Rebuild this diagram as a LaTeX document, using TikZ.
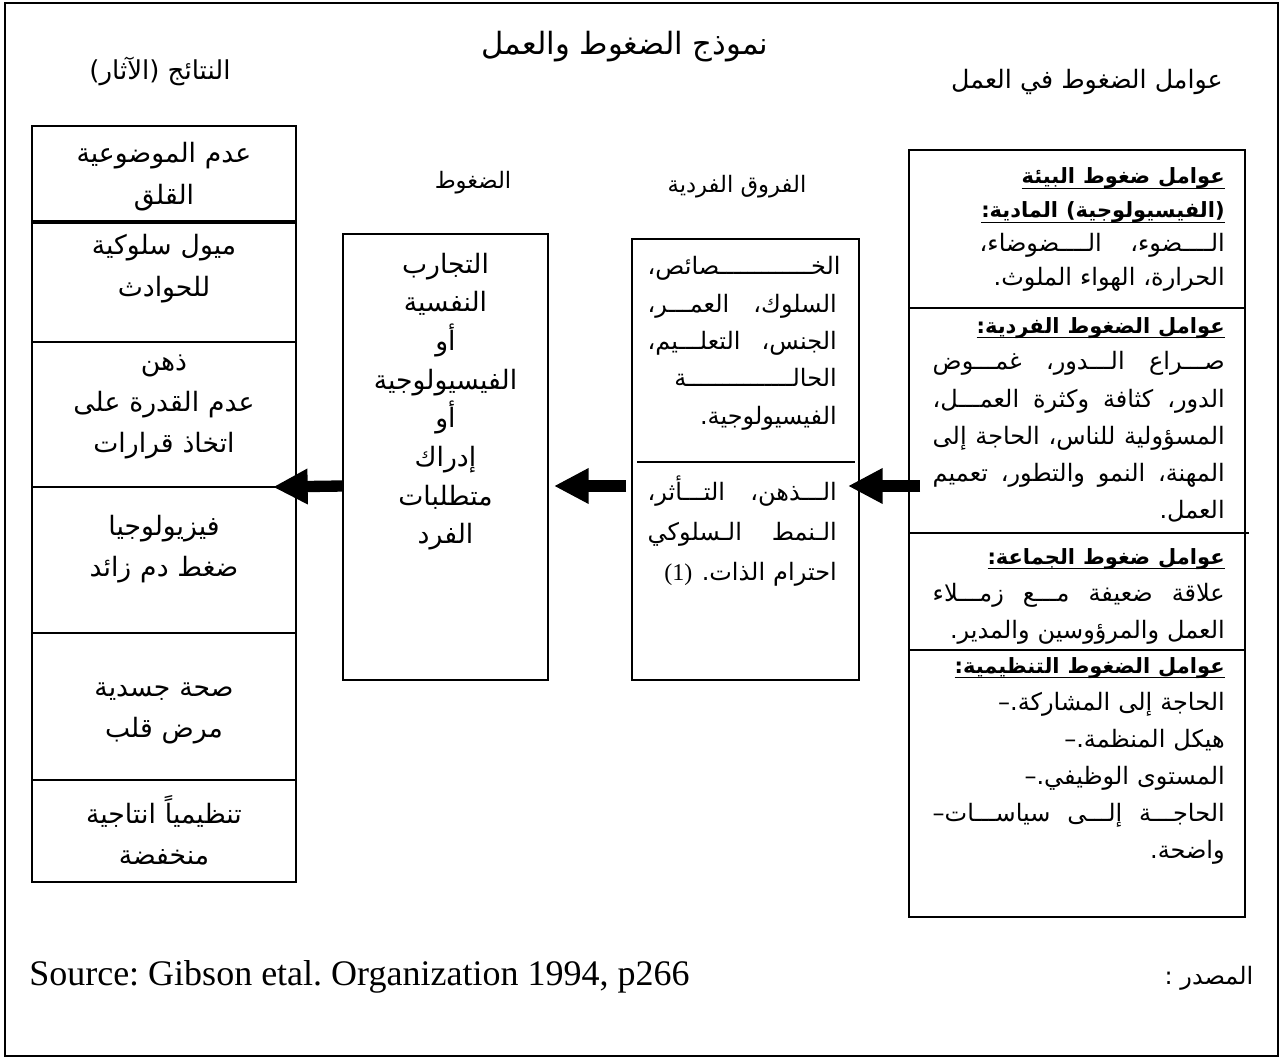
\documentclass[tikz,border=0pt]{standalone}
\usepackage{fontspec}
\setmainfont{Liberation Serif}
\newfontfamily\arabicfont[Script=Arabic]{DejaVu Sans}
\TeXXeTstate=1
\usepackage{tikz}
\usetikzlibrary{arrows.meta,positioning,calc}

% one run of right-to-left text
\newcommand\rtl[1]{\beginR#1\endR}
% centred, right-aligned and justified lines inside a text box
\newcommand\cl[1]{\noindent\hbox to\linewidth{\hfil\strut\rtl{#1}\hfil}\par}
\newcommand\rl[1]{\noindent\hbox to\linewidth{\hfil\strut\rtl{#1}}\par}
\newcommand\jl[1]{\noindent\hbox to\linewidth{\strut\rtl{#1}}\par}
\newcommand\dl[1]{\noindent\hbox to\linewidth{\hfil\strut–\rtl{#1}}\par}
% underlined bold heading line
\newcommand\undr[1]{\setbox0\hbox{#1}\rlap{\rule[-4pt]{\wd0}{1.3pt}}\box0}
\newcommand\hd[1]{\noindent\hbox to\linewidth{\hfil\strut\undr{\fontsize{15.75}{20}\selectfont\bfseries\rtl{#1}}}\par}

\begin{document}
\frenchspacing
\begin{tikzpicture}[x=0.75pt,y=-0.75pt,
    box/.style={draw, line width=1.5pt, inner sep=0pt, outer sep=0pt},
    cell/.style={box, minimum width=198pt},
    sect/.style={box, minimum width=252pt},
    divider/.style={line width=1.5pt},
    ltxt/.style={inner sep=0pt, text width=190pt, anchor=base,
      font=\arabicfont\fontsize{20}{31}\selectfont},
    ctxt/.style={inner sep=0pt, text width=150pt, anchor=base,
      font=\arabicfont\fontsize{20}{29}\selectfont},
    itxt/.style={inner sep=0pt, text width=141.75pt, anchor=base east,
      font=\arabicfont\fontsize{18}{28}\selectfont},
    rtxt/.style={inner sep=0pt, text width=219pt, anchor=base east,
      font=\arabicfont\fontsize{18}{27.75}\selectfont},
    lbl/.style={inner sep=0pt, font=\arabicfont\fontsize{17}{20}\selectfont},
    bigarrow/.style={line width=8.5pt, -{Triangle[length=26pt,width=25pt]}}
  ]
  \useasboundingbox (0,0) rectangle (1281,1059);
  \draw[line width=1.5pt] (5,3) rectangle (1278,1056);

  % titles
  \node[lbl, font=\arabicfont\fontsize{23}{26}\selectfont] (title) at (625,47) {\rtl{نموذج الضغوط والعمل}};
  \node[lbl, font=\arabicfont\fontsize{19.5}{22}\selectfont] (reslbl) at (160,71) {\rtl{النتائج (الآثار)}};
  \node[lbl, font=\arabicfont\fontsize{19}{22}\selectfont] (faclbl) at (1087,82) {\rtl{عوامل الضغوط في العمل}};
  \node[lbl] (stresslbl) at (473,183) {\rtl{الضغوط}};
  \node[lbl] (indivlbl) at (737,187) {\rtl{الفروق الفردية}};

  % results column
  \node[cell, minimum height=72pt, anchor=north west] (r1) at (32,126) {};
  \node[cell, minimum height=90pt, anchor=north] (r2) at (r1.south) {};
  \node[cell, minimum height=108.75pt, anchor=north] (r3) at (r2.south) {};
  \node[cell, minimum height=109.5pt, anchor=north] (r4) at (r3.south) {};
  \node[cell, minimum height=110.25pt, anchor=north] (r5) at (r4.south) {};
  \node[cell, minimum height=76.5pt, anchor=north] (r6) at (r5.south) {};
  \draw[line width=2.6pt] (r1.south west) -- (r1.south east);
  \node[ltxt] (l1) at ($(r1.north)+(0,37)$) {\cl{عدم الموضوعية}\cl{القلق}};
  \node[ltxt] (l2) at ($(r2.north)+(0,33)$) {\cl{ميول سلوكية}\cl{للحوادث}};
  \node[ltxt] (l3) at ($(r3.north)+(0,28)$) {\cl{ذهن}\cl{عدم القدرة على}\cl{اتخاذ قرارات}};
  \node[ltxt] (l4) at ($(r4.north)+(0,48)$) {\cl{فيزيولوجيا}\cl{ضغط دم زائد}};
  \node[ltxt] (l5) at ($(r5.north)+(0,63)$) {\cl{صحة جسدية}\cl{مرض قلب}};
  \node[ltxt] (l6) at ($(r6.north)+(0,43)$) {\cl{تنظيمياً انتاجية}\cl{منخفضة}};

  % stress box
  \node[box, minimum width=153.75pt, minimum height=334.5pt, anchor=north west] (stress) at (343,234) {};
  \node[ctxt] (st) at ($(stress.north)+(0,39)$) {\cl{التجارب}\cl{النفسية}\cl{أو}\cl{الفيسيولوجية}\cl{أو}\cl{إدراك}\cl{متطلبات}\cl{الفرد}};

  % individual differences box
  \node[box, minimum width=170.25pt, minimum height=330.75pt, anchor=north west] (indiv) at (632,239) {};
  \draw[divider] ($(indiv.north west)+(5,223)$) -- ($(indiv.north east)+(-4,223)$);
  \node[itxt] (i1) at ($(indiv.north east)+(-22,36)$) {
    \rl{الخـــــــــــــصائص،}
    \jl{السلوك،\hfill العمـــر،}
    \jl{الجنس،\hfill التعلـــيم،}
    \rl{الحالـــــــــــــــة}
    \rl{الفيسيولوجية.}};
  \node[itxt, font=\arabicfont\fontsize{18}{30}\selectfont] (i2) at ($(indiv.north east)+(-22,261)$) {
    \jl{الـــذهن،\hfill التـــأثر،}
    \jl{الـنمط\hfill الـسلوكي}
    \noindent\hbox to\linewidth{\hfil\strut{\rmfamily(1)}\hspace{7pt}\rtl{احترام الذات.}}\par};

  % stress factors box
  \node[sect, minimum height=118.5pt, anchor=north west] (f1) at (909,150) {};
  \node[sect, minimum height=168.75pt, anchor=north] (f2) at (f1.south) {};
  \node[sect, minimum height=87.75pt, anchor=north] (f3) at (f2.south) {};
  \node[sect, minimum height=200.25pt, anchor=north] (f4) at (f3.south) {};
  \draw[divider] (f3.north east) -- ++(4,0);
  \node[rtxt, text width=183.75pt, font=\arabicfont\fontsize{18}{25.5}\selectfont] (ft1) at ($(f1.north east)+(-20,34)$) {
    \hd{عوامل ضغوط البيئة}
    \hd{(الفيسيولوجية) المادية:}
    \jl{الــــضوء،\hfill الــــضوضاء،}
    \rl{الحرارة، الهواء الملوث.}};
  \node[rtxt] (ft2) at ($(f2.north east)+(-20,25)$) {
    \hd{عوامل الضغوط الفردية:}
    \jl{صـــراع\hfill الـــدور،\hfill غمـــوض}
    \jl{الدور،\hfill كثافة\hfill وكثرة\hfill العمـــل،}
    \jl{المسؤولية\hfill للناس،\hfill الحاجة\hfill إلى}
    \jl{المهنة،\hfill النمو\hfill والتطور،\hfill تعميم}
    \rl{العمل.}};
  \node[rtxt] (ft3) at ($(f3.north east)+(-20,31)$) {
    \hd{عوامل ضغوط الجماعة:}
    \jl{علاقة\hfill ضعيفة\hfill مـــع\hfill زمـــلاء}
    \rl{العمل والمرؤوسين والمدير.}};
  \node[rtxt] (ft4) at ($(f4.north east)+(-20,23)$) {
    \hd{عوامل الضغوط التنظيمية:}
    \dl{الحاجة إلى المشاركة.}
    \dl{هيكل المنظمة.}
    \dl{المستوى الوظيفي.}
    \noindent\hbox to\linewidth{\strut–\rtl{الحاجـــة\hfill إلـــى\hfill سياســـات}}\par
    \rl{واضحة.}};

  % arrows
  \coordinate (lvl) at (0,486);
  \draw[bigarrow] ($(f2.west |- lvl)+(11,0)$) -- ($(indiv.east |- lvl)+(-11,0)$);
  \draw[bigarrow] ($(indiv.west |- lvl)+(-6,0)$) -- ($(stress.east |- lvl)+(6,0)$);
  \draw[bigarrow] (stress.west |- lvl) -- ($(r4.north east)+(-23,0)$);

  % source
  \node[anchor=west, inner sep=0pt, font=\fontsize{27}{30}\selectfont] (src) at (29,977) {Source: Gibson etal. Organization 1994, p266};
  \node[lbl, font=\arabicfont\fontsize{18}{20}\selectfont] (srclbl) at (1209,978) {\rtl{المصدر :}};
\end{tikzpicture}
\end{document}
